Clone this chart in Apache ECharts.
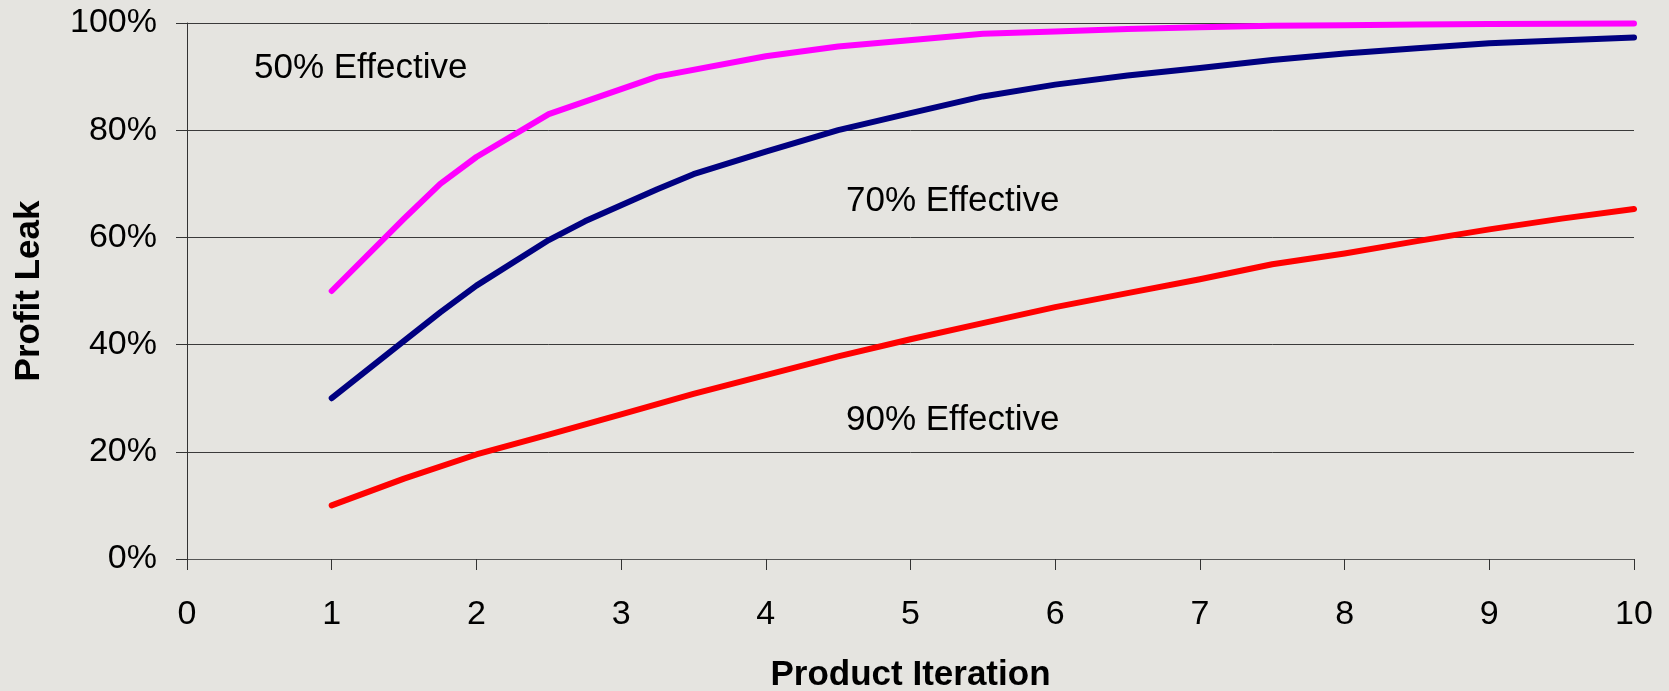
<!DOCTYPE html>
<html>
<head>
<meta charset="utf-8">
<script src="https://cdn.jsdelivr.net/npm/echarts@6/dist/echarts.min.js"></script>
<style>
  html, body { margin: 0; padding: 0; background: #e5e4e0; }
  #chart { width: 1669px; height: 691px; }
</style>
</head>
<body>
<div id="chart"></div>
<script>
// iteration numbers and profit leak (%)
const x50 = [1, 1.5, 1.75, 2, 2.5, 3.25, 4, 4.5, 5.5, 6, 6.5, 7, 7.5, 8, 8.5, 9, 10]
const y50 = [50, 63.5, 70, 75, 83, 90, 93.8, 95.6, 98, 98.4, 98.9, 99.2, 99.5, 99.6, 99.7, 99.8, 99.9]

const x70 = [1, 1.5, 1.75, 2, 2.5, 2.75, 3, 3.25, 3.5, 4, 4.5, 5, 5.5, 6, 6.5, 7, 7.5, 8, 8.5, 9, 10]
const y70 = [30, 40.7, 46, 51, 59.5, 63, 66, 69, 71.8, 76, 80, 83.2, 86.3, 88.5, 90.2, 91.6, 93.1, 94.3, 95.3, 96.2, 97.3]

const x90 = [1, 1.5, 2, 2.5, 3, 3.5, 4, 4.5, 5, 5.5, 6, 6.5, 7, 7.5, 8, 8.5, 9, 9.5, 10]
const y90 = [10, 15, 19.5, 23.2, 27, 30.8, 34.3, 37.8, 41, 44, 47, 49.6, 52.2, 55, 57, 59.3, 61.5, 63.5, 65.3]

const labels = ['50% Effective', '70% Effective', '90% Effective']

const font = "'Liberation Sans', Arial, sans-serif"

function pairs(xs, ys) {
  return xs.map((x, i) => [x, ys[i]])
}

function lineSeries(name, xs, ys, color) {
  return {
    name: name,
    type: 'line',
    data: pairs(xs, ys),
    symbol: 'none',
    smooth: false,
    animation: false,
    lineStyle: { color: color, width: 6, cap: 'round', join: 'round' },
    z: 3
  }
}

const chart = echarts.init(document.getElementById('chart'))
chart.setOption({
  backgroundColor: '#e5e4e0',
  animation: false,
  grid: { left: 187, right: 35, top: 23, bottom: 132, containLabel: false, outerBoundsMode: 'none' },
  xAxis: {
    type: 'value',
    min: 0,
    max: 10,
    interval: 1,
    name: 'Product Iteration',
    nameLocation: 'middle',
    nameGap: 99,
    nameTextStyle: { fontFamily: font, fontSize: 35, fontWeight: 'bold', color: '#000' },
    axisLine: { show: true, lineStyle: { color: '#555', width: 1 } },
    axisTick: { show: true, inside: false, length: 11, lineStyle: { color: '#333' } },
    axisLabel: { margin: 39, fontFamily: font, fontSize: 34, color: '#000' },
    splitLine: { show: false }
  },
  yAxis: {
    type: 'value',
    min: 0,
    max: 100,
    interval: 20,
    name: 'Profit Leak',
    nameLocation: 'middle',
    nameGap: 140,
    nameRotate: 90,
    nameTextStyle: { fontFamily: font, fontSize: 35, fontWeight: 'bold', color: '#000' },
    axisLine: { show: true, lineStyle: { color: '#333', width: 1 } },
    axisTick: { show: true, inside: false, length: 11, lineStyle: { color: '#333' } },
    axisLabel: { margin: 30, padding: [4, 0, 0, 0], fontFamily: font, fontSize: 34, color: '#000', formatter: '{value}%' },
    splitLine: { show: true, lineStyle: { color: '#3a3a3a', width: 1 } }
  },
  graphic: [
    { type: 'text', left: 254, top: 51, style: { text: labels[0], font: '35px ' + font, fill: '#000' } },
    { type: 'text', left: 846, top: 184, style: { text: labels[1], font: '35px ' + font, fill: '#000' } },
    { type: 'text', left: 846, top: 403, style: { text: labels[2], font: '35px ' + font, fill: '#000' } }
  ],
  series: [
    lineSeries('90%', x90, y90, '#ff0000'),
    lineSeries('70%', x70, y70, '#000080'),
    lineSeries('50%', x50, y50, '#ff00ff')
  ]
})
</script>
</body>
</html>
